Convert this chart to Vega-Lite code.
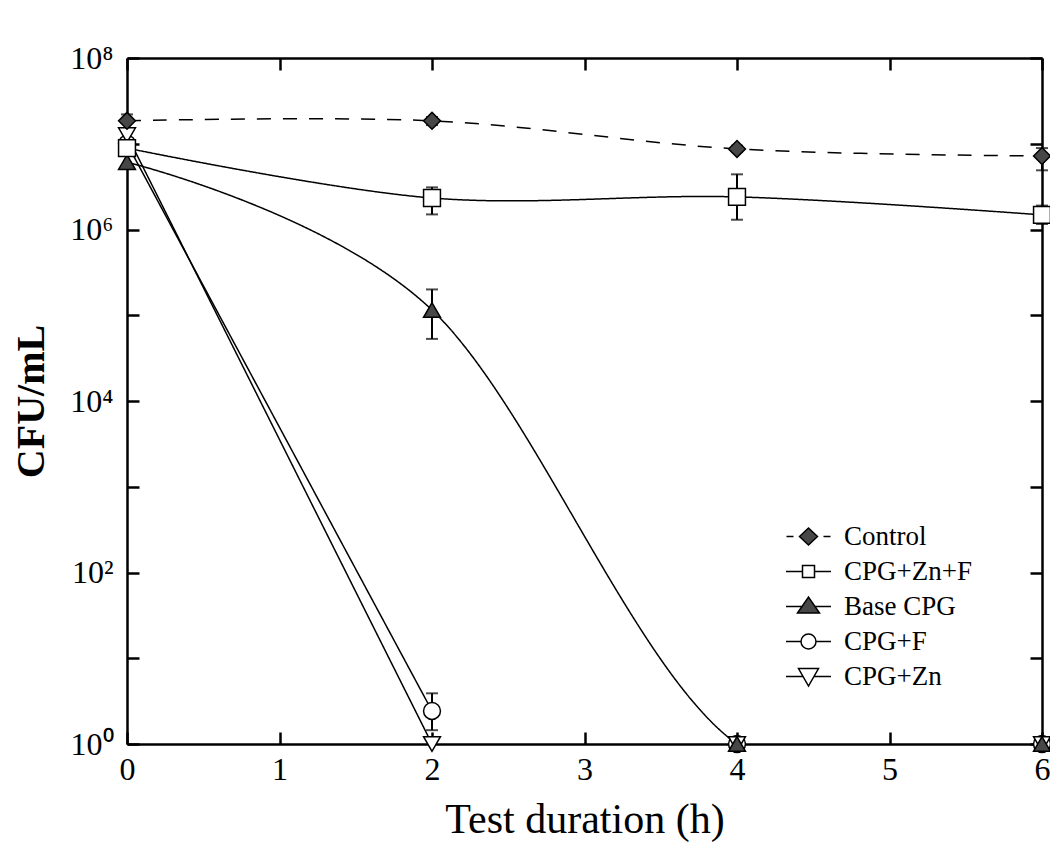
{
  "$schema": "https://vega.github.io/schema/vega-lite/v6.json",
  "width": 915,
  "height": 686,
  "autosize": {"type": "none"},
  "padding": {"left": 127, "top": 58, "right": 8, "bottom": 122},
  "background": "white",
  "config": {
    "view": {"stroke": null},
    "font": "Liberation Serif",
    "axis": {
      "domainColor": "black",
      "domainWidth": 2.5,
      "tickColor": "black",
      "tickWidth": 2.5,
      "tickSize": -12,
      "grid": false,
      "labelFlush": false,
      "labelFont": "Liberation Serif",
      "labelFontSize": 32,
      "labelColor": "black",
      "titleFont": "Liberation Serif",
      "titleColor": "black"
    }
  },
  "datasets": {
    "pts": [
      {"series": "CPG+F", "t": 0, "cfu": 10000000},
      {"series": "CPG+F", "t": 2, "cfu": 2.43},
      {"series": "CPG+F", "t": 4, "cfu": 1},
      {"series": "CPG+F", "t": 6, "cfu": 1},
      {"series": "CPG+Zn", "t": 0, "cfu": 12600000},
      {"series": "CPG+Zn", "t": 2, "cfu": 1},
      {"series": "CPG+Zn", "t": 4, "cfu": 1},
      {"series": "CPG+Zn", "t": 6, "cfu": 1},
      {"series": "Base CPG", "t": 0, "cfu": 6100000},
      {"series": "Base CPG", "t": 2, "cfu": 115000},
      {"series": "Base CPG", "t": 4, "cfu": 1},
      {"series": "Base CPG", "t": 6, "cfu": 1},
      {"series": "Control", "t": 0, "cfu": 18500000},
      {"series": "Control", "t": 2, "cfu": 18500000},
      {"series": "Control", "t": 4, "cfu": 8700000},
      {"series": "Control", "t": 6, "cfu": 7200000},
      {"series": "CPG+Zn+F", "t": 0, "cfu": 8900000},
      {"series": "CPG+Zn+F", "t": 2, "cfu": 2330000},
      {"series": "CPG+Zn+F", "t": 4, "cfu": 2400000},
      {"series": "CPG+Zn+F", "t": 6, "cfu": 1480000}
    ],
    "err": [
      {"series": "Control", "t": 0, "lo": 15000000, "hi": 22000000},
      {"series": "Control", "t": 2, "lo": 16500000, "hi": 20500000},
      {"series": "Control", "t": 4, "lo": 8000000, "hi": 9500000},
      {"series": "Control", "t": 6, "lo": 4900000, "hi": 8900000},
      {"series": "CPG+Zn+F", "t": 0, "lo": 7800000, "hi": 10200000},
      {"series": "CPG+Zn+F", "t": 2, "lo": 1500000, "hi": 3100000},
      {"series": "CPG+Zn+F", "t": 4, "lo": 1300000, "hi": 4400000},
      {"series": "CPG+Zn+F", "t": 6, "lo": 1160000, "hi": 1900000},
      {"series": "Base CPG", "t": 2, "lo": 53000, "hi": 200000},
      {"series": "CPG+F", "t": 2, "lo": 1.45, "hi": 3.9}
    ]
  },
  "layer": [
    {
      "data": {"name": "pts"},
      "transform": [
        {"filter": "(datum.series != 'CPG+Zn' && datum.series != 'CPG+F') || datum.t <= 2"}
      ],
      "mark": {"type": "line", "interpolate": "cardinal", "clip": true, "color": "black", "strokeWidth": 1.5},
      "encoding": {
        "x": {"field": "t", "type": "quantitative", "scale": {"domain": [0, 6], "nice": false},
          "axis": {"orient": "bottom", "values": [0, 1, 2, 3, 4, 5, 6], "format": "d", "labelPadding": 22, "title": "Test duration (h)", "titleFontSize": 42, "titleFontWeight": "normal", "titlePadding": 14}},
        "y": {"field": "cfu", "type": "quantitative", "scale": {"type": "log", "domain": [1, 100000000], "nice": false},
          "axis": {"orient": "left", "values": [1, 10, 100, 1000, 10000, 100000, 1000000, 10000000, 100000000],
            "labelExpr": "datum.value == 1 ? '10⁰' : datum.value == 100 ? '10²' : datum.value == 10000 ? '10⁴' : datum.value == 1000000 ? '10⁶' : datum.value == 100000000 ? '10⁸' : ''",
            "labelPadding": 26, "title": "CFU/mL", "titleFontSize": 40, "titleFontWeight": "bold", "titlePadding": 18}},
        "detail": {"field": "series"},
        "strokeDash": {"field": "series", "type": "nominal",
          "scale": {"domain": ["Control", "CPG+Zn+F", "Base CPG", "CPG+F", "CPG+Zn"], "range": [[14, 12], [1, 0], [1, 0], [1, 0], [1, 0]]},
          "legend": null}
      }
    },
    {
      "data": {"name": "err"},
      "mark": {"type": "rule", "color": "black", "strokeWidth": 2},
      "encoding": {
        "x": {"field": "t", "type": "quantitative", "axis": null},
        "y": {"field": "lo", "type": "quantitative", "axis": null},
        "y2": {"field": "hi"}
      }
    },
    {
      "data": {"name": "err"},
      "mark": {"type": "tick", "orient": "horizontal", "color": "black", "thickness": 2, "size": 12},
      "encoding": {
        "x": {"field": "t", "type": "quantitative", "axis": null},
        "y": {"field": "lo", "type": "quantitative", "axis": null}
      }
    },
    {
      "data": {"name": "err"},
      "mark": {"type": "tick", "orient": "horizontal", "color": "black", "thickness": 2, "size": 12},
      "encoding": {
        "x": {"field": "t", "type": "quantitative", "axis": null},
        "y": {"field": "hi", "type": "quantitative", "axis": null}
      }
    },
    {
      "data": {"name": "pts"},
      "mark": {"type": "point", "stroke": "black", "strokeWidth": 1.5, "opacity": 1, "size": 285},
      "encoding": {
        "x": {"field": "t", "type": "quantitative",
          "axis": {"orient": "top", "values": [0, 1, 2, 3, 4, 5, 6], "labels": false, "title": null}},
        "y": {"field": "cfu", "type": "quantitative",
          "axis": {"orient": "right", "values": [1, 10, 100, 1000, 10000, 100000, 1000000, 10000000, 100000000], "labels": false, "title": null}},
        "shape": {"field": "series", "type": "nominal",
          "scale": {"domain": ["Control", "CPG+Zn+F", "Base CPG", "CPG+F", "CPG+Zn"], "range": ["diamond", "square", "triangle-up", "circle", "triangle-down"]},
          "legend": null},
        "fill": {"field": "series", "type": "nominal",
          "scale": {"domain": ["Control", "CPG+Zn+F", "Base CPG", "CPG+F", "CPG+Zn"], "range": ["#474747", "white", "#474747", "white", "white"]},
          "legend": null}
      }
    },
    {
      "data": {"name": "pts"},
      "mark": {"type": "point", "stroke": "black", "strokeWidth": 1.5, "opacity": 0, "size": 400},
      "encoding": {
        "x": {"field": "t", "type": "quantitative", "axis": null},
        "y": {"field": "cfu", "type": "quantitative", "axis": null},
        "shape": {"field": "series", "type": "nominal",
          "scale": {"domain": ["Control", "CPG+Zn+F", "Base CPG", "CPG+F", "CPG+Zn"],
            "range": [
              "M-2.2,0H-1.5M-0.9,0L0,-0.85L0.9,0L0,0.85ZM1.5,0H2.2",
              "M-2.25,0H-0.6M0.6,0H2.25M-0.6,-0.6H0.6V0.6H-0.6Z",
              "M-2.25,0H-0.65M0.65,0H2.25M-1.1,0.65L0,-0.95L1.1,0.65Z",
              "M-2.25,0H-0.75M0.75,0H2.25M0.75,0A0.75,0.75,0,1,1,-0.75,0A0.75,0.75,0,1,1,0.75,0Z",
              "M-2.25,0H-0.54M0.54,0H2.25M-1,-0.8L1,-0.8L0,0.95Z"
            ]},
          "legend": {"orient": "none", "legendX": 668, "legendY": 465, "title": null, "symbolSize": 400, "symbolStrokeWidth": 1.5, "symbolStrokeColor": "black", "labelFont": "Liberation Serif", "labelFontSize": 27, "labelColor": "black", "labelOffset": 22, "rowPadding": 7, "padding": 0, "symbolOpacity": 1,
            "encode": {"symbols": {"update": {"opacity": {"value": 1}, "stroke": {"value": "black"}, "strokeWidth": {"value": 1.5}}}}}},
        "fill": {"field": "series", "type": "nominal",
          "scale": {"domain": ["Control", "CPG+Zn+F", "Base CPG", "CPG+F", "CPG+Zn"], "range": ["#474747", "white", "#474747", "white", "white"]},
          "legend": {"orient": "none", "legendX": 668, "legendY": 465, "title": null, "symbolSize": 400, "symbolStrokeWidth": 1.5, "symbolStrokeColor": "black", "labelFont": "Liberation Serif", "labelFontSize": 27, "labelColor": "black", "labelOffset": 22, "rowPadding": 7, "padding": 0, "symbolOpacity": 1,
            "encode": {"symbols": {"update": {"opacity": {"value": 1}, "stroke": {"value": "black"}, "strokeWidth": {"value": 1.5}}}}}}
      }
    }
  ],
  "resolve": {"scale": {"shape": "independent", "fill": "independent"}}
}
